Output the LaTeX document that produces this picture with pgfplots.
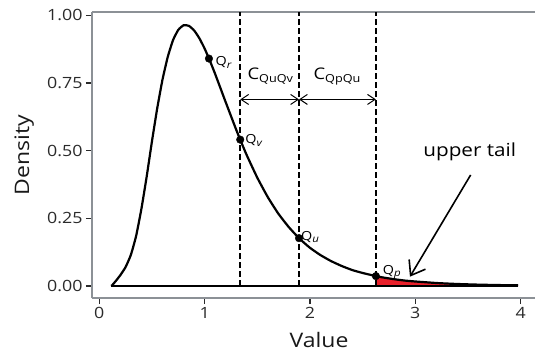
\documentclass[border=0pt]{standalone}
\usepackage{pgfplots}
\pgfplotsset{compat=1.18}
\usepackage{fontspec}
\setmainfont{Open Sans}[FakeStretch=1.15]
\usetikzlibrary{arrows.meta}
\definecolor{axisgray}{HTML}{8C9196}
\definecolor{tickgray}{HTML}{2A2A2A}
\definecolor{tailred}{HTML}{E8202A}
\newcommand{\Qlab}[1]{Q\raisebox{-0.2em}{\fontsize{10}{10}\selectfont\itshape #1}}
\newcommand{\Clab}[1]{C\raisebox{-3pt}{\fontsize{11}{11}\selectfont #1}}
\begin{document}
\begin{tikzpicture}
\begin{axis}[
 scale only axis, width=443pt, height=286pt,
 xmin=-0.069, xmax=4.136, ymin=-0.0444, ymax=1.012,
 axis x line*=bottom, axis y line*=left,
 axis line style={draw=axisgray, line width=1.9pt, -},
 xtick={0,1,2,3,4}, ytick={0,0.25,0.5,0.75,1},
 tick align=outside, major tick length=6pt,
 tick style={draw=tickgray, line width=1.4pt},
 yticklabel style={/pgf/number format/fixed, /pgf/number format/fixed zerofill, /pgf/number format/precision=2},
 /pgf/number format/assume math mode=true,
 ticklabel style={font=\fontsize{15.5}{16}\selectfont, text=tickgray},
 xlabel={Value}, ylabel={Density},
 label style={font=\fontsize{20}{22}\selectfont, text=black!90},
 xlabel style={at={(axis description cs:0.5124,0)}, anchor=base, yshift=-49.5pt},
 ylabel style={at={(axis description cs:-0.142,0.5)}, anchor=base},
 clip=false,
]
\coordinate (bl) at (rel axis cs:0,0);
\coordinate (tr) at (rel axis cs:1,1);
% top frame line
\draw[axisgray, line width=1.9pt] (rel axis cs:0,1) -- (rel axis cs:1,1);
% red upper tail
\addplot[fill=tailred, draw=none] coordinates {
 (2.626,0) (2.626,0.0365) (2.70,0.031) (2.80,0.025) (2.90,0.020) (3.00,0.0166)
 (3.20,0.011) (3.40,0.0073) (3.60,0.0049) (3.80,0.0033) (3.975,0.0024) (3.975,0)} -- cycle;
% dashed quantile lines
\addplot[black, line width=1.8pt, dash pattern=on 5.5pt off 3.5pt] coordinates {(1.338,0) (1.338,1.012)};
\addplot[black, line width=1.8pt, dash pattern=on 5.5pt off 3.5pt] coordinates {(1.896,0) (1.896,1.012)};
\addplot[black, line width=1.8pt, dash pattern=on 5.5pt off 3.5pt] coordinates {(2.626,0) (2.626,1.012)};
% density curve
\addplot[black, line width=2.2pt, smooth, tension=0.3] coordinates {
 (0.114,0) (0.13,0.006) (0.16,0.020) (0.20,0.040) (0.25,0.070) (0.30,0.115)
 (0.35,0.185) (0.40,0.285) (0.45,0.404) (0.50,0.534) (0.55,0.656) (0.60,0.762)
 (0.65,0.846) (0.70,0.908) (0.75,0.946) (0.80,0.963) (0.85,0.961) (0.90,0.944)
 (0.95,0.915) (1.00,0.877) (1.05,0.832) (1.10,0.783) (1.15,0.731) (1.20,0.679)
 (1.25,0.628) (1.30,0.577) (1.35,0.529) (1.40,0.483) (1.50,0.400) (1.60,0.328)
 (1.70,0.267) (1.80,0.217) (1.90,0.175) (2.00,0.141) (2.10,0.114) (2.20,0.092)
 (2.30,0.074) (2.40,0.059) (2.50,0.048) (2.626,0.0365) (2.70,0.031) (2.80,0.025)
 (2.90,0.020) (3.00,0.0166) (3.20,0.011) (3.40,0.0073) (3.60,0.0049)
 (3.80,0.0033) (3.975,0.0024)};
\addplot[black, line width=2.2pt] coordinates {(0.114,0) (3.975,0)};
% quantile points
\addplot[only marks, mark=*, mark size=3.8pt, black] coordinates {
 (1.041,0.840) (1.338,0.5405) (1.896,0.1767) (2.626,0.0365)};
% labels
\node[anchor=base west, inner sep=0pt, font=\fontsize{12.5}{13}\selectfont] at (axis cs:1.041,0.840) [xshift=6.5pt, yshift=-7.3pt] {\Qlab{r}};
\node[anchor=base west, inner sep=0pt, font=\fontsize{12.5}{13}\selectfont] at (axis cs:1.338,0.5405) [xshift=5pt, yshift=-4pt] {\Qlab{v}};
\node[anchor=base west, inner sep=0pt, font=\fontsize{12.5}{13}\selectfont] at (axis cs:1.896,0.1767) [xshift=2pt, yshift=-2pt] {\Qlab{u}};
\node[anchor=base west, inner sep=0pt, font=\fontsize{12.5}{13}\selectfont] at (axis cs:2.626,0.0365) [xshift=6.7pt, yshift=2pt] {\Qlab{p}};
% C distances
\draw[{Straight Barb[length=7.5pt,width=10pt]}-{Straight Barb[length=7.5pt,width=10pt]}, line width=1pt]
 (axis cs:1.338,0.689) -- (axis cs:1.896,0.689);
\draw[{Straight Barb[length=7.5pt,width=10pt]}-{Straight Barb[length=7.5pt,width=10pt]}, line width=1pt]
 (axis cs:1.896,0.689) -- (axis cs:2.626,0.689);
\node[anchor=base, inner sep=0pt, font=\fontsize{16}{17}\selectfont] at (axis cs:1.623,0.7616) {\Clab{QuQv}};
\node[anchor=base, inner sep=0pt, font=\fontsize{16}{17}\selectfont] at (axis cs:2.257,0.7616) {\Clab{QpQu}};
% upper tail annotation
\node[anchor=base, inner sep=0pt, font=\fontsize{18}{19}\selectfont] at (axis cs:3.517,0.477) {upper tail};
\draw[line width=1.6pt, -{Straight Barb[length=13pt,width=19pt]}] (axis cs:3.525,0.410) -- (axis cs:2.949,0.0344);
\end{axis}
\pgfresetboundingbox
\path[use as bounding box] ([xshift=-92pt,yshift=-55pt]bl) rectangle ([yshift=12pt]tr);
\end{tikzpicture}
\end{document}
